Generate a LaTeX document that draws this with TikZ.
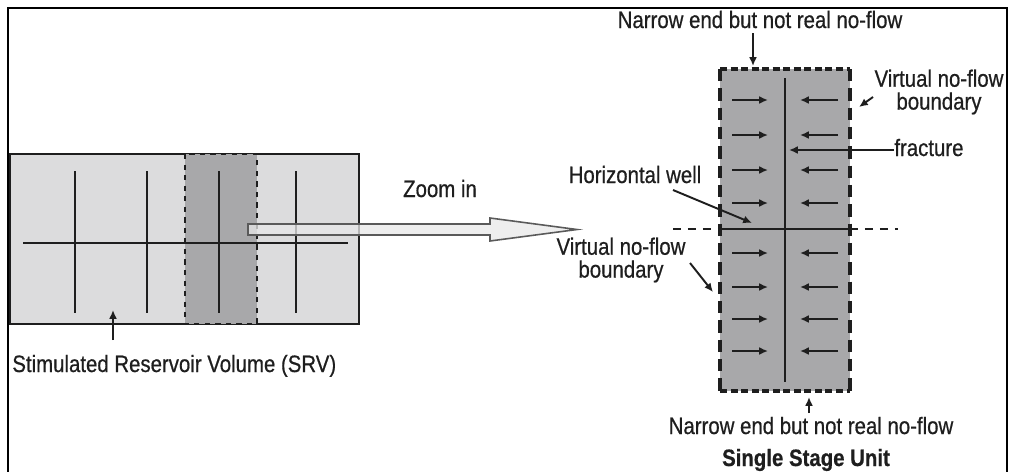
\documentclass[tikz,border=0pt]{standalone}
\usepackage{fontspec}
\setmainfont{Liberation Sans}[FakeStretch=0.86,FakeBold=0.6]
\usepackage{tikz}
\usetikzlibrary{arrows.meta}
\definecolor{srvgray}{RGB}{220,220,221}
\definecolor{stagegray}{RGB}{168,168,170}
\definecolor{inkgray}{RGB}{30,30,30}
\definecolor{zoomgray}{RGB}{232,232,232}
\definecolor{zoomedge}{RGB}{90,90,90}

\begin{document}
\begin{tikzpicture}[x=0.02cm,y=-0.02cm,>={Latex[length=5pt,width=4.5pt]},
    font=\fontsize{13.5}{13}\selectfont,
    lbl/.style={inner sep=0pt,text=inkgray,align=center}]
    \useasboundingbox (0,0) rectangle (1011,471);

    % Outer frame (open at the bottom)
    \draw[line width=1.3pt,black] (8,480) -- (8,8) -- (1007,8) -- (1007,480);

    % Stimulated reservoir volume with one stage picked out
    \draw[line width=1.4pt,inkgray,fill=srvgray] (10,154) rectangle (359,324);
    \draw[inkgray,dashed,line width=0.7pt,fill=stagegray] (185,154) rectangle (257,324);
    \foreach \x in {75,147,219,296}
        \draw[line width=1.4pt,inkgray] (\x,171) -- (\x,313);
    \draw[line width=1.4pt,inkgray] (23,243) -- (348,243);

    % Zoom arrow
    \draw[zoomedge,line width=0.9pt,fill=zoomgray,fill opacity=0.75]
        (248,224) -- (490,224) -- (490,218) -- (577,229.5)
        -- (490,241) -- (490,235) -- (248,235) -- cycle;
    \node[lbl,anchor=base] (zoomlabel) at (440,197) {Zoom in};

    % Single stage unit
    \fill[stagegray] (720,69) rectangle (850,391);
    \draw[inkgray,line width=1.9pt,dash pattern=on 4pt off 2pt] (720,69) -- (850,69);
    \draw[inkgray,line width=1.9pt,dash pattern=on 4pt off 2pt] (720,391) -- (850,391);
    \draw[inkgray,line width=1.9pt,dash pattern=on 7pt off 4pt] (720,69) -- (720,391);
    \draw[inkgray,line width=1.9pt,dash pattern=on 7pt off 4pt] (850,69) -- (850,391);

    % Flow towards the fracture
    \foreach \y in {100,135,170,203,253,287,319,351} {
        \draw[->,line width=1.2pt,inkgray] (732,\y) -- (768,\y);
        \draw[->,line width=1.2pt,inkgray] (838,\y) -- (800,\y);
    }

    % Fracture and well
    \draw[line width=1.4pt,inkgray] (785,78) -- (785,382);
    \draw[line width=1.4pt,inkgray] (720,229) -- (850,229);
    \draw[line width=1.3pt,inkgray,dash pattern=on 4.5pt off 4pt] (673,229) -- (720,229);
    \draw[line width=1.3pt,inkgray,dash pattern=on 4.5pt off 4pt] (850,229) -- (898,229);

    % Labels
    \node[lbl,anchor=base west] (srvlabel) at (12,372) {Stimulated Reservoir Volume (SRV)};
    \node[lbl,anchor=base] (topend) at (760,28) {Narrow end but not real no-flow};
    \node[lbl,anchor=base] (botend) at (811,434) {Narrow end but not real no-flow};
    \node[lbl,anchor=base] (unitlabel) at (806,466) {\bfseries Single Stage Unit};
    \node[lbl,anchor=base west] (fraclabel) at (894,156) {fracture};
    \node[lbl,anchor=base] (welllabel) at (635,183) {Horizontal well};
    \node[lbl] (vnfright) at (939,92) {Virtual no-flow\\boundary};
    \node[lbl] (vnfleft) at (621,260) {Virtual no-flow\\boundary};

    % Pointers
    \coordinate (srvtail) at (113,340);
    \coordinate (srvtip) at (113,310);
    \coordinate (toptail) at (753,33);
    \coordinate (toptip) at (753,66);
    \coordinate (bottail) at (809,413);
    \coordinate (bottip) at (809,397);
    \coordinate (fractip) at (789,150);
    \coordinate (welltail) at (673,190);
    \coordinate (welltip) at (752,223);
    \coordinate (righttail) at (873,97);
    \coordinate (righttip) at (859,107);
    \coordinate (lefttail) at (690,263);
    \coordinate (lefttip) at (713,292);
    \draw[->,line width=1.1pt,inkgray] (srvtail) -- (srvtip);
    \draw[->,line width=1.1pt,inkgray] (toptail) -- (toptip);
    \draw[->,line width=1.1pt,inkgray] (bottail) -- (bottip);
    \draw[->,line width=1.1pt,inkgray] (fraclabel.west |- fractip) -- (fractip);
    \draw[->,line width=1.1pt,inkgray] (welltail) -- (welltip);
    \draw[->,line width=1.1pt,inkgray] (righttail) -- (righttip);
    \draw[->,line width=1.1pt,inkgray] (lefttail) -- (lefttip);
\end{tikzpicture}
\end{document}
